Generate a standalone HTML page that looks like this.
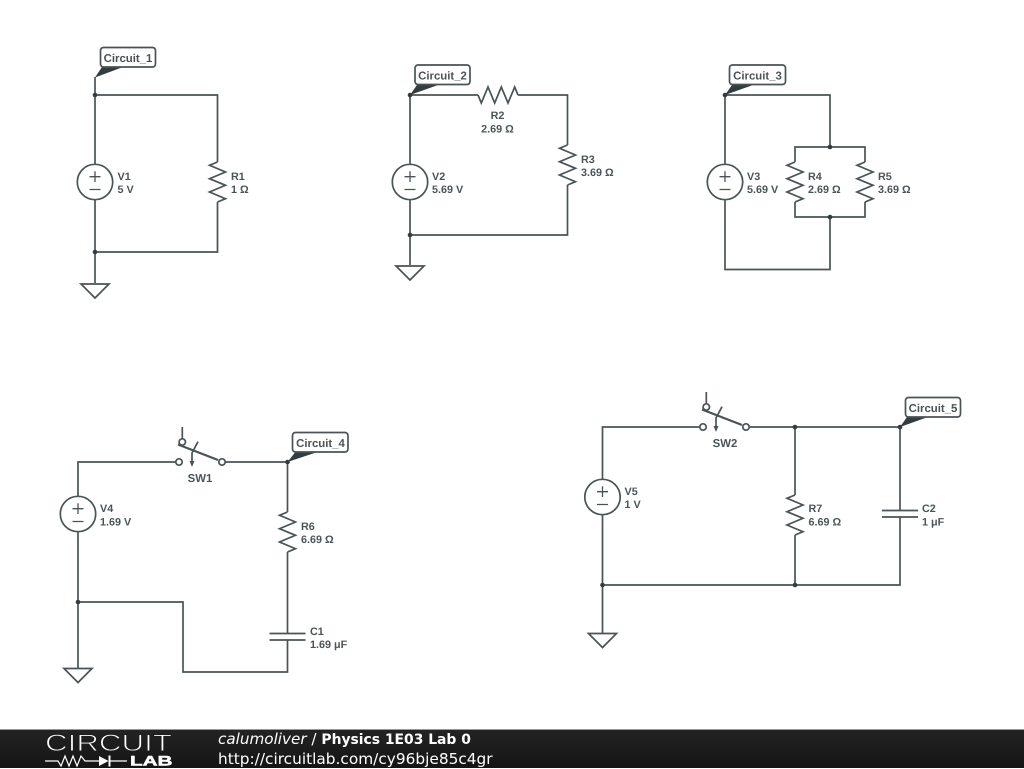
<!DOCTYPE html>
<html><head><meta charset="utf-8"><style>
html,body{margin:0;padding:0;background:#fff;width:1024px;height:768px;overflow:hidden}
svg{display:block;position:absolute;left:0;top:0}
.w{fill:none;stroke:#4a5456;stroke-width:1.7}
.t{font:bold 10.8px "Liberation Sans",sans-serif;fill:#4a5456;text-rendering:geometricPrecision}
.g{font:bold 10.8px "Liberation Sans",sans-serif;fill:#4a5456;text-anchor:middle;text-rendering:geometricPrecision}
.n{font:bold 11.4px "Liberation Sans",sans-serif;fill:#4a5456;text-anchor:middle;text-rendering:geometricPrecision}
#foot{position:absolute;left:0;top:729px;width:1024px;height:39px;background:linear-gradient(#232323,#151515);border-top:1px solid #999;box-sizing:border-box}
.f{position:absolute;left:218px;color:#fff;font-family:"DejaVu Sans",sans-serif;white-space:nowrap}
</style></head><body>
<svg width="1024" height="768" viewBox="0 0 1024 768">
<defs>
<polyline id="r" class="w" points="0,-20 -8,-16.7 8,-10 -8,-3.3 8,3.3 -8,10 8,16.7 0,20"/>
<g id="v"><circle class="w" r="17.7" cx="0" cy="0" style="fill:#fff"/><path class="w" style="stroke-width:1.300" d="M-5.500,-5.300H5.500M0,-10.800V0M-5.500,7.500H5.500"/></g>
<path id="gnd" class="w" d="M-14,0H14L0,14Z"/>
<g id="sw"><path class="w" d="M3.300,-35V-23"/><path class="w" style="stroke-width:2.200" d="M-1,-17.500L39,-2"/><path class="w" d="M19,-20.300L13,-9V1"/><path d="M13,5L10.500,-1H15.500Z" fill="#4a5456"/><circle class="w" cx="0" cy="0" r="3.200" style="fill:#fff"/><circle class="w" cx="43" cy="0" r="3.200" style="fill:#fff"/><circle class="w" cx="3.300" cy="-20" r="3.200" style="fill:#fff"/></g>
</defs>

<!-- Circuit 1 -->
<path class="w" d="M95,77V164.500M95,199.500V283M95,95H217.500V162M217.500,202V252H95"/>
<use href="#r" x="217.500" y="182"/><use href="#v" x="95" y="182"/><use href="#gnd" x="95" y="284"/>
<circle cx="95" cy="95" r="2.300" fill="#333c3e"/><circle cx="95" cy="252" r="2.300" fill="#333c3e"/>
<path d="M95,77.500L102,67H123Z" fill="#333c3e"/>
<rect class="w" x="100.500" y="47.500" width="55" height="19.500" rx="3" style="fill:#fff"/>
<text class="n" x="128" y="62">Circuit_1</text>
<text class="t" x="117.500" y="180">V1</text><text class="t" x="117.500" y="193">5 V</text>
<text class="t" x="231" y="180">R1</text><text class="t" x="231" y="193">1 Ω</text>

<!-- Circuit 2 -->
<path class="w" d="M410,95V164.500M410,199.500V265M410,95H478M518,95H567.500V145M567.500,185V235H410"/>
<use href="#r" transform="translate(498 95) rotate(-90)"/><use href="#r" x="567.500" y="165"/><use href="#v" x="410" y="182"/><use href="#gnd" x="410" y="266"/>
<circle cx="410" cy="95" r="2.300" fill="#333c3e"/><circle cx="410" cy="235" r="2.300" fill="#333c3e"/>
<path d="M410,95L417,85H438Z" fill="#333c3e"/>
<rect class="w" x="415" y="65" width="55" height="19.500" rx="3" style="fill:#fff"/>
<text class="n" x="442.500" y="79.500">Circuit_2</text>
<text class="t" x="432" y="180">V2</text><text class="t" x="432" y="193">5.69 V</text>
<text class="g" x="497.500" y="119">R2</text><text class="g" x="497.500" y="132.500">2.69 Ω</text>
<text class="t" x="581" y="163">R3</text><text class="t" x="581" y="176">3.69 Ω</text>

<!-- Circuit 3 -->
<path class="w" d="M725,95V164.500M725,199.500V269.500H830V217M830,147V95H725M795,162V147H865V162M795,202V217H865V202"/>
<use href="#r" x="795" y="182"/><use href="#r" x="865" y="182"/><use href="#v" x="725" y="182"/>
<circle cx="725" cy="95" r="2.300" fill="#333c3e"/><circle cx="830" cy="147" r="2.300" fill="#333c3e"/><circle cx="830" cy="217" r="2.300" fill="#333c3e"/>
<path d="M725,95L732,85H753Z" fill="#333c3e"/>
<rect class="w" x="729.500" y="65" width="56" height="19.500" rx="3" style="fill:#fff"/>
<text class="n" x="757.500" y="79.500">Circuit_3</text>
<text class="t" x="747" y="180">V3</text><text class="t" x="747" y="193">5.69 V</text>
<text class="t" x="808" y="180">R4</text><text class="t" x="808" y="193">2.69 Ω</text>
<text class="t" x="878" y="180">R5</text><text class="t" x="878" y="193">3.69 Ω</text>

<!-- Circuit 4 -->
<path class="w" d="M78,496.500V462H176M225,462H287.500V512M287.500,552V633.500M287.500,640V672H183V602H78M78,531.500V668M269.500,633.500H305.500M269.500,640H305.500"/>
<use href="#r" x="287.500" y="532"/><use href="#v" x="78" y="514"/><use href="#gnd" x="78" y="668.500"/><use href="#sw" x="179" y="462"/>
<circle cx="78" cy="602" r="2.300" fill="#333c3e"/><circle cx="287.500" cy="462" r="2.300" fill="#333c3e"/>
<path d="M287.500,462L295,452.500H316Z" fill="#333c3e"/>
<rect class="w" x="292.500" y="432.500" width="55.500" height="19.500" rx="3" style="fill:#fff"/>
<text class="n" x="320.500" y="447">Circuit_4</text>
<text class="n" x="200" y="482">SW1</text>
<text class="t" x="100" y="512">V4</text><text class="t" x="100" y="525.500">1.69 V</text>
<text class="t" x="301" y="530">R6</text><text class="t" x="301" y="543">6.69 Ω</text>
<text class="t" x="310" y="635">C1</text><text class="t" x="310" y="648">1.69 μF</text>

<!-- Circuit 5 -->
<path class="w" d="M602.500,479.500V427H700M750,427H900V510.500M900,517V585H602.500M602.500,514.500V633M795,427V495M795,535V585M882,510.500H918M882,517H918"/>
<use href="#r" x="795" y="515"/><use href="#v" x="602.500" y="497"/><use href="#gnd" x="602.500" y="633.500"/><use href="#sw" x="703" y="427"/>
<circle cx="795" cy="427" r="2.300" fill="#333c3e"/><circle cx="900" cy="427" r="2.300" fill="#333c3e"/><circle cx="795" cy="585" r="2.300" fill="#333c3e"/><circle cx="602.500" cy="585" r="2.300" fill="#333c3e"/>
<path d="M900,427L907,417H928Z" fill="#333c3e"/>
<rect class="w" x="905.500" y="397.500" width="55" height="19.500" rx="3" style="fill:#fff"/>
<text class="n" x="933" y="412">Circuit_5</text>
<text class="n" x="725" y="447">SW2</text>
<text class="t" x="624.500" y="495">V5</text><text class="t" x="624.500" y="508">1 V</text>
<text class="t" x="808.500" y="512">R7</text><text class="t" x="808.500" y="525.500">6.69 Ω</text>
<text class="t" x="922" y="512">C2</text><text class="t" x="922" y="525.500">1 μF</text>
</svg>

<div id="foot">
<div class="f" style="top:0;line-height:18px"><i style="font-size:15.2px">calumoliver</i><span style="font-size:15.2px"> / </span><b style="font-size:13.9px">Physics 1E03 Lab 0</b></div>
<div class="f" style="top:20px;font-size:15.35px;line-height:18px">http://circuitlab.com/cy96bje85c4gr</div>
<svg width="180" height="39" viewBox="0 0 180 39" style="left:0;top:0">
<text x="45" y="21" font-family="Liberation Sans,sans-serif" font-size="24" fill="#fff" stroke="#1e1e1e" stroke-width="0.900" textLength="127" lengthAdjust="spacingAndGlyphs">CIRCUIT</text>
<path d="M45,31H58L61,36L65,26L69,36L73,26L77,36L81,26L85,31H99M110,31H127" fill="none" stroke="#fff" stroke-width="1.200"/>
<path d="M99,26L108.500,31L99,36ZM108.500,25.500H110.500V36.500H108.500Z" fill="#fff"/>
<text x="130" y="35.500" font-family="Liberation Sans,sans-serif" font-weight="bold" font-size="14" fill="#fff" stroke="#fff" stroke-width="0.500" textLength="42.500" lengthAdjust="spacingAndGlyphs">LAB</text>
</svg>
</div>
</body></html>
